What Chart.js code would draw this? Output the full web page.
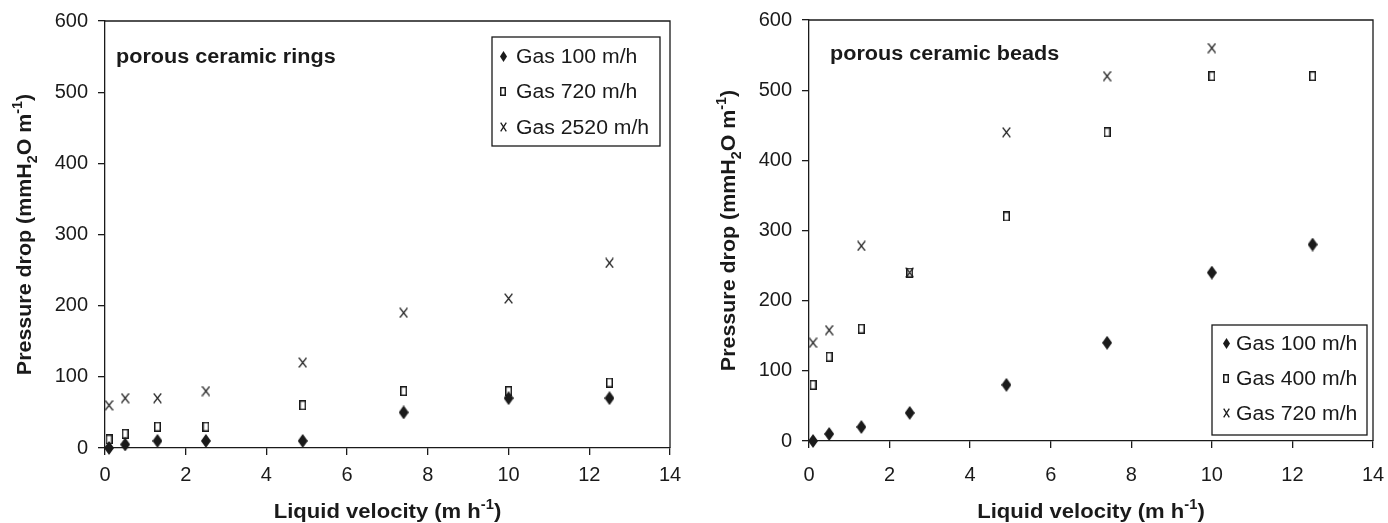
<!DOCTYPE html>
<html>
<head>
<meta charset="utf-8">
<script src="https://cdn.jsdelivr.net/npm/chart.js@4.4.1/dist/chart.umd.min.js"></script>
<style>
  body { margin: 0; background: #fff; }
  .wrap { position: absolute; top: 0; width: 694px; height: 523px; }
  canvas { display: block; }
</style>
</head>
<body>
<div class="wrap" style="left:0"><canvas id="rings" width="694" height="523"></canvas></div>
<div class="wrap" style="left:694px"><canvas id="beads" width="694" height="523"></canvas></div>
<script>
// liquid velocity (m/h) at which each run was measured
const velocity = [0.1, 0.5, 1.3, 2.5, 4.9, 7.4, 10, 12.5];

// porous ceramic rings, pressure drop (mmH2O/m)
const ringsGas100  = [0, 5, 10, 10, 10, 50, 70, 70];
const ringsGas720  = [12, 20, 30, 30, 60, 80, 80, 92];
const ringsGas2520 = [60, 70, 70, 80, 120, 190, 210, 260];

// porous ceramic beads, pressure drop (mmH2O/m)
const beadsGas100 = [0, 10, 20, 40, 80, 140, 240, 280];
const beadsGas400 = [80, 120, 160, 240, 320, 440, 520, 520];
const beadsGas720 = [140, 158, 278, 240, 440, 520, 560];

const xTickValues = [0, 2, 4, 6, 8, 10, 12, 14];
const yTickValues = [0, 100, 200, 300, 400, 500, 600];

const FONT = '"Liberation Sans", Arial, sans-serif';
const INK = '#1a1a1a';

// marker images, one size for the plot and a smaller one for the legend
function marker(w, h, draw) {
  const c = document.createElement('canvas');
  c.width = w; c.height = h;
  draw(c.getContext('2d'), w, h);
  return c;
}
function diamond(w, h) {
  return marker(w, h, (g) => {
    g.fillStyle = INK;
    g.beginPath();
    g.moveTo(w / 2, 0); g.lineTo(w, h / 2); g.lineTo(w / 2, h); g.lineTo(0, h / 2);
    g.closePath(); g.fill();
  });
}
function openSquare(w, h) {
  return marker(w, h, (g) => {
    g.strokeStyle = INK; g.lineWidth = 1.5;
    g.strokeRect(0.75, 0.75, w - 1.5, h - 1.5);
  });
}
function cross(w, h) {
  return marker(w, h, (g) => {
    g.strokeStyle = INK; g.lineWidth = 1.3;
    g.beginPath();
    g.moveTo(0.7, 0.7); g.lineTo(w - 0.7, h - 0.7);
    g.moveTo(w - 0.7, 0.7); g.lineTo(0.7, h - 0.7);
    g.stroke();
  });
}
const markers = {
  diamond: { plot: diamond(10, 14), legend: diamond(7, 11) },
  square:  { plot: openSquare(7, 10), legend: openSquare(6, 9) },
  cross:   { plot: cross(9, 11), legend: cross(7, 10) }
};

function points(ys) {
  return ys.map((y, i) => ({ x: velocity[i], y: y }));
}

// text runs with sub/superscripts, centred on the current origin, stretched a bit wide
function drawRuns(ctx, runs, size, stretch) {
  const fontOf = r => 'bold ' + (r.s ? Math.round(size * 0.66) : size) + 'px ' + FONT;
  let total = 0;
  runs.forEach(r => { ctx.font = fontOf(r); total += ctx.measureText(r.t).width; });
  ctx.scale(stretch, 1);
  let x = -total / 2;
  runs.forEach(r => {
    ctx.font = fontOf(r);
    let dy = 0;
    if (r.s === 'sub') dy = size * 0.3;
    if (r.s === 'sup') dy = -size * 0.42;
    ctx.fillText(r.t, x, dy);
    x += ctx.measureText(r.t).width;
  });
}

function wideText(ctx, text, x, y, font, stretch) {
  ctx.save();
  ctx.translate(x, y);
  ctx.scale(stretch, 1);
  ctx.font = font;
  ctx.fillText(text, 0, 0);
  ctx.restore();
}

const decor = {
  id: 'decor',
  afterDraw(chart, args, o) {
    const ctx = chart.ctx;
    const a = chart.chartArea;
    ctx.save();
    ctx.strokeStyle = INK;
    ctx.lineWidth = 1.3;
    ctx.beginPath();
    ctx.moveTo(a.left, a.top); ctx.lineTo(a.right, a.top); ctx.lineTo(a.right, a.bottom);
    ctx.stroke();

    ctx.fillStyle = INK;
    ctx.textAlign = 'left';
    ctx.textBaseline = 'alphabetic';

    // panel label
    wideText(ctx, o.label, a.left + o.labelDx, a.top + o.labelDy, 'bold 20px ' + FONT, 1.08);

    // axis titles
    ctx.save();
    ctx.translate((a.left + a.right) / 2, o.xTitleY);
    drawRuns(ctx, [{ t: 'Liquid velocity (m h' }, { t: '-1', s: 'sup' }, { t: ')' }], 21, 1.05);
    ctx.restore();
    ctx.save();
    ctx.translate(o.yTitleX, (a.top + a.bottom) / 2);
    ctx.rotate(-Math.PI / 2);
    drawRuns(ctx, [{ t: 'Pressure drop (mmH' }, { t: '2', s: 'sub' }, { t: 'O m' }, { t: '-1', s: 'sup' }, { t: ')' }], 21, 1.02);
    ctx.restore();

    // legend box
    const lx = o.legendLeft, ly = o.legendTop;
    ctx.fillStyle = '#fff';
    ctx.fillRect(lx, ly, o.legendW, o.legendH);
    ctx.strokeStyle = INK;
    ctx.lineWidth = 1.3;
    ctx.strokeRect(lx, ly, o.legendW, o.legendH);
    ctx.fillStyle = INK;
    ctx.textBaseline = 'middle';
    chart.data.datasets.forEach((ds, i) => {
      const cy = ly + o.rowFirst + i * o.rowGap;
      const img = ds.legendMarker;
      ctx.drawImage(img, Math.round(lx + o.markDx - img.width / 2), Math.round(cy - img.height / 2));
      wideText(ctx, ds.label, lx + o.textDx, cy + 1, '20px ' + FONT, 1.06);
    });
    ctx.restore();
  }
};

function makeChart(id, series, opt) {
  return new Chart(document.getElementById(id), {
    type: 'scatter',
    data: {
      datasets: series.map(s => ({
        label: s.label,
        data: points(s.values),
        pointStyle: markers[s.marker].plot,
        legendMarker: markers[s.marker].legend,
        pointRadius: 6,
        pointHoverRadius: 6,
        clip: false
      }))
    },
    options: {
      responsive: false,
      animation: false,
      events: [],
      layout: { padding: { left: 0, right: opt.padRight, top: opt.padTop, bottom: 0 } },
      plugins: { legend: { display: false }, tooltip: { enabled: false }, decor: opt.decor },
      scales: {
        x: {
          type: 'linear', min: 0, max: 14,
          afterBuildTicks: s => { s.ticks = xTickValues.map(v => ({ value: v })); },
          afterFit: s => { s.height = opt.xAxisH; s.paddingLeft = 0; s.paddingRight = 0; },
          grid: { drawOnChartArea: false, drawTicks: true, tickLength: 7, color: INK, lineWidth: 1.3 },
          border: { color: INK, width: 1.3 },
          ticks: { color: INK, padding: opt.xTickPad, font: { family: FONT, size: 20 } }
        },
        y: {
          type: 'linear', min: 0, max: 600,
          afterBuildTicks: s => { s.ticks = yTickValues.map(v => ({ value: v })); },
          afterFit: s => { s.width = opt.yAxisW; s.paddingTop = 0; s.paddingBottom = 0; },
          grid: { drawOnChartArea: false, drawTicks: true, tickLength: 7, color: INK, lineWidth: 1.3 },
          border: { color: INK, width: 1.3 },
          ticks: { color: INK, padding: 10, font: { family: FONT, size: 20 } }
        }
      }
    },
    plugins: [decor]
  });
}

makeChart('rings', [
  { label: 'Gas 100 m/h', values: ringsGas100, marker: 'diamond' },
  { label: 'Gas 720 m/h', values: ringsGas720, marker: 'square' },
  { label: 'Gas 2520 m/h', values: ringsGas2520, marker: 'cross' }
], {
  padRight: 24, padTop: 21, xAxisH: 75, yAxisW: 105, xTickPad: 8,
  decor: {
    label: 'porous ceramic rings', labelDx: 11, labelDy: 42,
    xTitleY: 518, yTitleX: 31,
    legendLeft: 492, legendTop: 37, legendW: 168, legendH: 109,
    rowFirst: 19, rowGap: 35.5, markDx: 11, textDx: 24
  }
});

makeChart('beads', [
  { label: 'Gas 100 m/h', values: beadsGas100, marker: 'diamond' },
  { label: 'Gas 400 m/h', values: beadsGas400, marker: 'square' },
  { label: 'Gas 720 m/h', values: beadsGas720, marker: 'cross' }
], {
  padRight: 15, padTop: 20, xAxisH: 82, yAxisW: 115, xTickPad: 15,
  decor: {
    label: 'porous ceramic beads', labelDx: 21, labelDy: 40,
    xTitleY: 518, yTitleX: 41,
    legendLeft: 518, legendTop: 325, legendW: 155, legendH: 110,
    rowFirst: 18, rowGap: 35, markDx: 14, textDx: 24
  }
});
</script>
</body>
</html>
